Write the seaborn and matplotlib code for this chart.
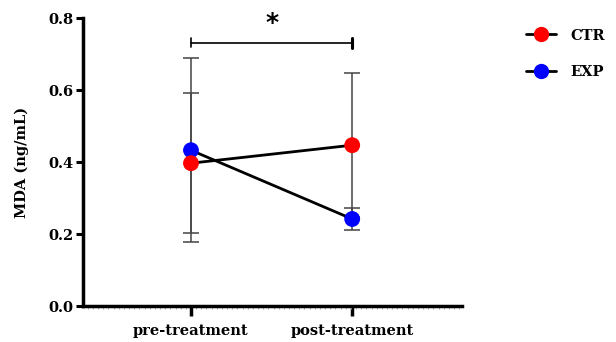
import matplotlib
matplotlib.use("Agg")
import matplotlib.pyplot as plt
from matplotlib.lines import Line2D
import seaborn as sns
import pandas as pd
import numpy as np

# data
timepoints = ["pre-treatment", "post-treatment"]
groups = ["CTR", "EXP"]
ctr_mean = [0.397, 0.447]
ctr_sd = [0.195, 0.200]
exp_mean = [0.433, 0.242]
exp_sd = [0.255, 0.030]
sig_label = "*"
sig_y = 0.732

colors = {"CTR": "#ff0000", "EXP": "#0000ff"}

rows = []
for g, means, sds in [("CTR", ctr_mean, ctr_sd), ("EXP", exp_mean, exp_sd)]:
    for i, t in enumerate(timepoints):
        rows.append({"group": g, "time": t, "pos": i, "mean": means[i], "sd": sds[i]})
df = pd.DataFrame(rows)

sns.set_style("ticks")
plt.rcParams["font.family"] = ["DejaVu Serif", "Liberation Serif"]
plt.rcParams["font.weight"] = "bold"
plt.rcParams["text.color"] = "black"
plt.rcParams["axes.labelcolor"] = "black"
plt.rcParams["xtick.color"] = "black"
plt.rcParams["ytick.color"] = "black"
plt.rcParams["axes.edgecolor"] = "black"

fig = plt.figure(figsize=(6.16, 3.42), dpi=100)
ax = fig.add_axes([0.1347, 0.105, 0.615, 0.842])

# error bars first
for g in groups:
    sub = df[df["group"] == g]
    ax.errorbar(sub["pos"], sub["mean"], yerr=sub["sd"], fmt="none",
                ecolor="#444444", elinewidth=1.1, capsize=5.5, capthick=1.1, zorder=1)

# connecting lines (black)
for g in groups:
    sub = df[df["group"] == g]
    sns.lineplot(data=sub, x="pos", y="mean", color="black", linewidth=2,
                 ax=ax, legend=False, zorder=2)

# markers
sns.scatterplot(data=df.iloc[::-1], x="pos", y="mean", hue="group", palette=colors,
                s=130, edgecolor="none", ax=ax, legend=False, zorder=3)

# significance bracket
ax.plot([0, 1], [sig_y, sig_y], color="black", lw=1.2)
ax.plot([0, 0], [sig_y - 0.012, sig_y + 0.012], color="black", lw=1.2)
ax.plot([1, 1], [sig_y - 0.014, sig_y + 0.014], color="black", lw=2.2)
ax.text(0.5, sig_y + 0.02, sig_label, ha="center", va="bottom",
        fontsize=18, fontweight="bold", family="DejaVu Sans")

ax.set_xlim(-0.67, 1.68)
ax.set_ylim(0, 0.8)
ax.set_xticks(range(len(timepoints)))
ax.set_xticklabels(timepoints, fontsize=10.5, fontweight="bold")
ax.set_yticks(np.arange(0, 0.81, 0.2))
ax.set_yticklabels([f"{v:.1f}" for v in np.arange(0, 0.81, 0.2)],
                   fontsize=10.5, fontweight="bold")
# faint dotted row under the x axis
ax.set_xticks(np.arange(-0.64, 1.68, 0.032), minor=True)
ax.tick_params(axis="x", which="minor", bottom=True, length=2, width=0.7,
               color="#aaaaaa", direction="out")
ax.tick_params(axis="x", which="major", length=7, width=2.5, pad=6)
ax.tick_params(axis="y", which="major", length=5, width=2.2, pad=2)
ax.set_xlabel("")
ax.set_ylabel("MDA (ng/mL)", fontsize=10.5, fontweight="bold", labelpad=14)

for side in ["top", "right"]:
    ax.spines[side].set_visible(False)
ax.spines["left"].set_linewidth(2.5)
ax.spines["bottom"].set_linewidth(2.5)

handles = [Line2D([0], [0], color="black", lw=2, marker="o", markersize=11,
                  markerfacecolor=colors[g], markeredgecolor="none") for g in groups]
fig.legend(handles, groups, loc="upper left", bbox_to_anchor=(0.832, 0.955),
           frameon=False, handlelength=2.1, handletextpad=1.0, labelspacing=1.55,
           prop={"weight": "bold", "size": 10.5})

fig.savefig("out.png", dpi=100)
